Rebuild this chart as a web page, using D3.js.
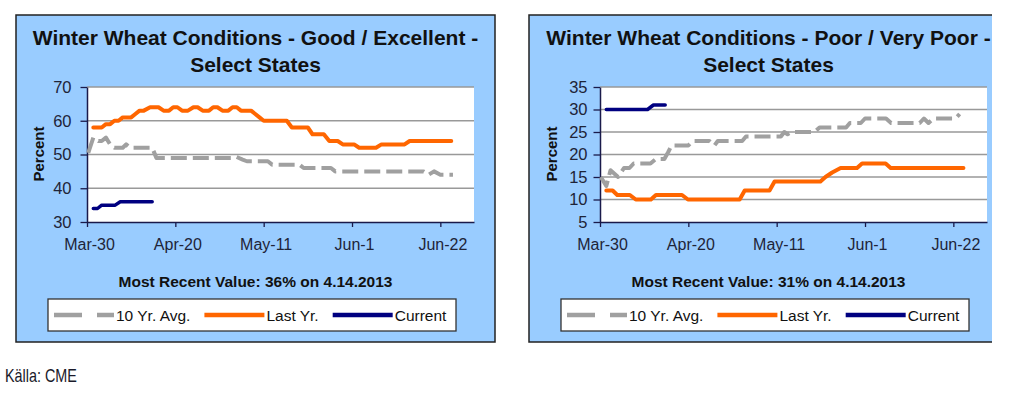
<!DOCTYPE html>
<html>
<head>
<meta charset="utf-8">
<script src="https://cdn.jsdelivr.net/npm/d3@7"></script>
<style>
  body { margin: 0; background: #fff; }
  svg { display: block; }
  text { font-family: "Liberation Sans", Arial, sans-serif; }
</style>
</head>
<body>
<svg id="chart" width="1028" height="397"></svg>
<script>
// x axis: days after Mar-30
const dayTicks = [0, 21, 42, 63, 84];
const dayLabels = ["Mar-30", "Apr-20", "May-11", "Jun-1", "Jun-22"];
const legendNames = ["10 Yr. Avg.", "Last Yr.", "Current"];

// Good / Excellent  -  [day, percent]
const goodAvg = [[0.3,50.5],[1.5,55],[2.7,54],[3.5,54],[4.5,55],[5.5,53],[6.5,52],[8.5,52],[9.3,53],[10.3,52],[15.5,52],[16.5,49],[34.5,49],[35.5,49.3],[37,48.5],[38,48],[43,48],[44,47],[50.5,47],[51.5,46],[58,46],[59,45],[80,45],[81.2,44],[82.5,45],[84,44],[87,44]];
const goodLast = [[1.5,58],[3.5,58],[4.5,59],[5.5,59],[6.5,60],[7.5,60],[8.5,61],[10.5,61],[11.5,62],[12.5,63],[13.5,63],[15,64],[17,64],[18.2,63],[19.5,63],[20.5,64],[21.5,64],[22.6,63],[24,63],[25.3,64],[26.3,64],[27.5,63],[29,63],[30,64],[31,64],[32.2,63],[33.6,63],[34.6,64],[35.6,64],[36.6,63],[39,63],[40,62],[41,61],[42,60],[47.5,60],[48.7,58],[52.5,58],[53.6,56],[56.3,56],[57.6,54],[59.6,54],[60.8,53],[63.5,53],[64.7,52],[68.7,52],[70,53],[75.5,53],[76.7,54],[86.6,54]];
const goodCur = [[1.5,34],[2.5,34],[3.5,35],[6.7,35],[7.9,36],[15.5,36]];

// Poor / Very Poor  -  [day, percent]
const poorAvg = [[0.2,15],[1.5,13],[2.5,16.5],[4.3,15],[5.7,17],[7,17],[8,18],[12,18],[13.3,19],[15.3,19],[16.2,20.5],[17,22],[21,22],[22,23],[26,23],[27.2,22],[28,23],[33.8,23],[34.7,24],[43,24],[43.8,25],[44.6,24.5],[45.6,25],[51,25],[52.2,26],[58.5,26],[59.4,27],[62,27],[63,28],[68,28],[69.2,27],[76,27],[77,28],[78.1,27],[79.3,28],[84.5,28],[85.5,29]];
const poorLast = [[1.5,12],[3,12],[4.1,11],[7.1,11],[8.5,10],[12.1,10],[13.3,11],[19.5,11],[20.9,10],[33.2,10],[34.4,12],[40.3,12],[41.5,14],[52.4,14],[53.6,15],[54.4,15.5],[55.2,16],[57.2,17],[61.1,17],[62.3,18],[67.9,18],[69.1,17],[86.4,17]];
const poorCur = [[1.5,30],[11.3,30],[12.7,31],[15.5,31]];

const panels = [
  { left: 16, titles: ["Winter Wheat Conditions - Good / Excellent -", "Select States"],
    yDomain: [30, 70], yTicks: [30, 40, 50, 60, 70], labelPad: 9,
    series: [goodAvg, goodLast, goodCur], recent: "Most Recent Value: 36% on 4.14.2013" },
  { left: 529, titles: ["Winter Wheat Conditions - Poor / Very Poor -", "Select States"],
    yDomain: [5, 35], yTicks: [5, 10, 15, 20, 25, 30, 35], labelPad: 6,
    series: [poorAvg, poorLast, poorCur], recent: "Most Recent Value: 31% on 4.14.2013" }
];

const colors = ["#a0a0a0", "#ff6600", "#000080"];
const widths = [4, 4, 3.5];
const PANEL_W = 479, PANEL_H = 327, PANEL_TOP = 15;
const PLOT_TOP = 87, PLOT_BOTTOM = 222;
const ink = "#1e2438";

const svg = d3.select("#chart");

// right panel is cut by the picture edge
svg.append("defs").append("clipPath").attr("id", "cut")
  .append("rect").attr("x", 0).attr("y", 0).attr("width", 992).attr("height", 397);

panels.forEach((p, pi) => {
  const g = svg.append("g").attr("clip-path", "url(#cut)");
  const cx = p.left + PANEL_W / 2;

  g.append("rect").attr("x", p.left).attr("y", PANEL_TOP)
    .attr("width", PANEL_W).attr("height", PANEL_H)
    .attr("fill", "#99ccff").attr("stroke", "#222").attr("stroke-width", 1.5);

  p.titles.forEach((t, i) => {
    g.append("text").attr("x", cx).attr("y", 45 + i * 27)
      .attr("text-anchor", "middle").attr("font-size", 21).attr("font-weight", "bold")
      .attr("fill", "#111").text(t);
  });

  const plotL = p.left + 71, plotR = p.left + 458;
  const x = d3.scaleLinear().domain([0, 92]).range([plotL, plotR]);
  const y = d3.scaleLinear().domain(p.yDomain).range([PLOT_BOTTOM, PLOT_TOP]);

  g.append("rect").attr("x", plotL).attr("y", PLOT_TOP)
    .attr("width", plotR - plotL).attr("height", PLOT_BOTTOM - PLOT_TOP).attr("fill", "#fff");

  // gridlines
  g.append("g").selectAll("line").data(p.yTicks.slice(1)).join("line")
    .attr("x1", plotL).attr("x2", plotR)
    .attr("y1", d => y(d)).attr("y2", d => y(d))
    .attr("stroke", "#999").attr("stroke-width", 1.6);

  const yAxis = g.append("g").attr("transform", `translate(${plotL},0)`)
    .call(d3.axisLeft(y).tickValues(p.yTicks).tickSize(6.5).tickPadding(p.labelPad).tickSizeOuter(0));
  yAxis.selectAll("text").attr("font-size", 16.5).attr("fill", ink)
    .style("font-family", "'Liberation Sans', Arial, sans-serif");

  const xAxis = g.append("g").attr("transform", `translate(0,${PLOT_BOTTOM})`)
    .call(d3.axisBottom(x).tickValues(dayTicks).tickFormat((d, i) => dayLabels[i]).tickSize(5).tickSizeOuter(0));
  xAxis.selectAll("text").attr("font-size", 16).attr("fill", ink)
    .attr("y", 27.5).attr("dy", 0).attr("dx", 2)
    .style("font-family", "'Liberation Sans', Arial, sans-serif");

  [yAxis, xAxis].forEach(a => {
    a.select(".domain").attr("stroke", "#1a1a4a").attr("stroke-width", 1.5);
    a.selectAll(".tick line").attr("stroke", "#1a1a4a").attr("stroke-width", 1.3);
  });

  g.append("text")
    .attr("transform", `translate(${p.left + 22.5},154) rotate(-90)`)
    .attr("text-anchor", "middle").attr("dy", "0.35em")
    .attr("font-size", 15).attr("font-weight", "bold").attr("fill", "#111").text("Percent");

  const line = d3.line().x(d => x(d[0])).y(d => y(d[1]));
  p.series.forEach((s, si) => {
    g.append("path").datum(s).attr("d", line)
      .attr("fill", "none").attr("stroke", colors[si]).attr("stroke-width", widths[si])
      .attr("stroke-linejoin", "round")
      .attr("stroke-linecap", si === 0 ? "butt" : "round")
      .attr("stroke-dasharray", si === 0 ? "16,6" : null);
  });

  g.append("text").attr("x", cx).attr("y", 287).attr("text-anchor", "middle")
    .attr("font-size", 15.5).attr("font-weight", "bold").attr("fill", "#111").text(p.recent);

  // legend
  const legL = p.left + 32, legW = 408;
  g.append("rect").attr("x", legL).attr("y", 299).attr("width", legW).attr("height", 32)
    .attr("fill", "#fff").attr("stroke", "#333").attr("stroke-width", 1.3);
  let lx = legL + 6;
  legendNames.forEach((name, i) => {
    g.append("line").attr("x1", lx).attr("x2", lx + 60).attr("y1", 315).attr("y2", 315)
      .attr("stroke", colors[i]).attr("stroke-width", 4.5)
      .attr("stroke-dasharray", i === 0 ? "28,15" : null);
    const t = g.append("text").attr("x", lx + 62).attr("y", 320.5)
      .attr("font-size", 15.5).attr("fill", "#111").text(name);
    lx += 62 + t.node().getComputedTextLength() + 14;
  });
});

// source note, narrow face imitated by squeezing
svg.append("text").attr("transform", "translate(5,382) scale(0.8,1)")
  .attr("font-size", 18).attr("fill", "#1a1a2a")
  .text("Källa: CME");
</script>
</body>
</html>
